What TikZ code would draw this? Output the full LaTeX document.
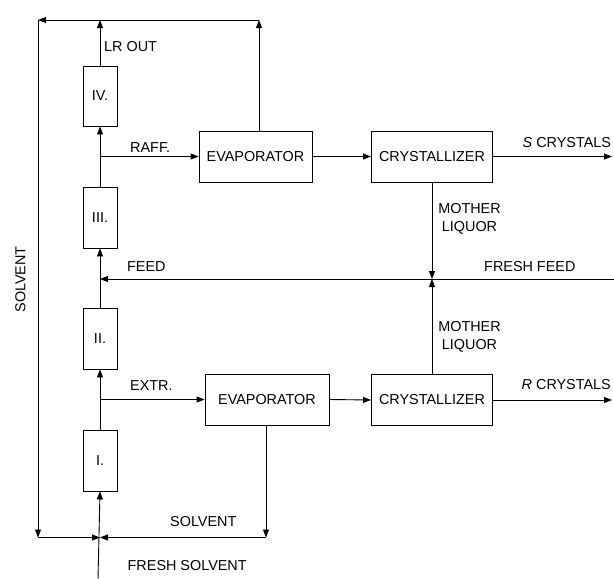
\documentclass[tikz,border=0pt]{standalone}
\usepackage{fontspec}
\setmainfont{Liberation Sans}
\usetikzlibrary{arrows.meta}

\begin{document}
\begin{tikzpicture}[
    x=1pt, y=-1pt,
    every node/.append style={font=\fontsize{14.4}{18}\selectfont},
    % 样式
    column/.style={draw, line width=0.9pt, minimum width=34pt, minimum height=61pt, inner sep=0pt},
    unitbox/.style={draw, line width=0.9pt, minimum height=51pt, inner sep=0pt},
    lbl/.style={anchor=base west, inner sep=0pt},
    flow/.style={-{Triangle[length=8pt,width=6pt]}, line width=0.9pt},
]
\useasboundingbox (0,0) rectangle (614,579);

% ========== 分离柱 ==========
\node[column] (c1) at (100, 460.5) {I.};
\node[column] (c2) at (100, 338.5) {II.};
\node[column] (c3) at (100, 217.5) {III.};
\node[column, minimum height=60pt] (c4) at (100, 96) {IV.};

% ========== 蒸发器与结晶器 ==========
\node[unitbox, minimum width=113pt] (evapT) at (255.5, 156.5) {EVAPORATOR};
\node[unitbox, minimum width=121pt] (crysT) at (432, 156.5) {CRYSTALLIZER};
\node[unitbox, minimum width=124pt] (evapB) at (267, 399.5) {EVAPORATOR};
\node[unitbox, minimum width=121pt] (crysB) at (432, 400) {CRYSTALLIZER};

% 连接点
\coordinate (raff) at (100, 156.5);
\coordinate (extr) at (100, 399.5);
\coordinate (feed) at (100, 279);
\coordinate (ffin) at (614, 279);
\coordinate (mix) at (432, 279);
\coordinate (lrtop) at (100, 20);
\coordinate (evout) at (259, 131);
\coordinate (evtop) at (259, 20);
\coordinate (tl) at (38, 20);
\coordinate (bl) at (38, 537.5);
\coordinate (sj) at (100, 537.5);
\coordinate (evbot) at (266, 425);
\coordinate (br) at (266, 537.5);
\coordinate (fsin) at (98, 579);
\coordinate (sout) at (612, 156.5);
\coordinate (rout) at (612, 400);

% ========== 柱间连接 ==========
\draw[flow] (c1.north) -- (c2.south);
\draw[flow] (c2.north) -- (c3.south);
\draw[flow] (c3.north) -- (c4.south);
\draw[flow] (c4.north) -- (lrtop);
\draw[flow] (raff) -- (evapT.west);
\draw[flow] (extr) -- (evapB.west);
\draw[flow] (ffin) -- (feed);

% ========== 产品线 ==========
\draw[flow] (evapT.east) -- (crysT.west);
\draw[flow] (evapB.east) -- (crysB.west);
\draw[flow] (crysT.east) -- (sout);
\draw[flow] (crysB.east) -- (rout);
\draw[flow] (crysT.south) -- (mix);
\draw[flow] (crysB.north) -- (mix);

% ========== 溶剂循环 ==========
\draw[flow] (evout) -- (evtop);
\draw[flow] (evtop) -- (tl);
\draw[flow] (tl) -- (bl);
\draw[flow] (bl) -- (sj);
\draw[flow] (evbot) -- (br);
\draw[flow] (br) -- (sj);
\draw[flow] (fsin) -- (c1.south);

% ========== 标签 ==========
\node[lbl] (tlr) at (104, 51) {LR OUT};
\node[lbl] (traff) at (130, 152) {RAFF.};
\node[lbl] (textr) at (130, 390) {EXTR.};
\node[lbl] (tfeed) at (127, 271.5) {FEED};
\node[lbl] (tffeed) at (484, 271.5) {FRESH FEED};
\node[lbl] (tscr) at (522.5, 147) {\textit{S} CRYSTALS};
\node[lbl] (trcr) at (521.5, 389) {\textit{R} CRYSTALS};
\node[anchor=base, inner sep=0pt, align=center] (tml1) at (469.5, 231.5) {MOTHER\\LIQUOR};
\node[anchor=base, inner sep=0pt, align=center] (tml2) at (469.5, 349.5) {MOTHER\\LIQUOR};
\node[lbl] (tsolv) at (170, 526) {SOLVENT};
\node[lbl] (tfsolv) at (127.5, 570.5) {FRESH SOLVENT};
\node[rotate=90, inner sep=0pt] (tsolvv) at (20.5, 279.5) {SOLVENT};

\end{tikzpicture}
\end{document}
